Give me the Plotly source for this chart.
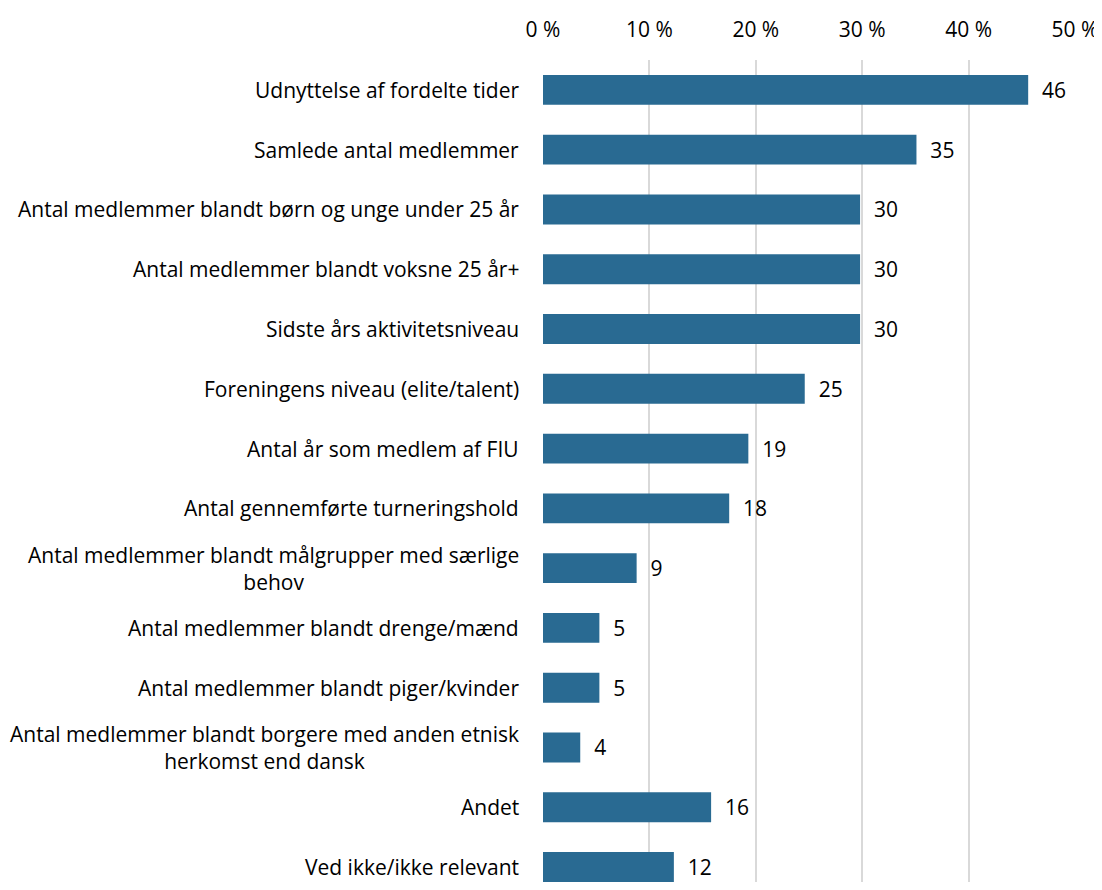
import plotly.graph_objects as go

categories = [
    "Udnyttelse af fordelte tider",
    "Samlede antal medlemmer",
    "Antal medlemmer blandt børn og unge under 25 år",
    "Antal medlemmer blandt voksne 25 år+",
    "Sidste års aktivitetsniveau",
    "Foreningens niveau (elite/talent)",
    "Antal år som medlem af FIU",
    "Antal gennemførte turneringshold",
    "Antal medlemmer blandt målgrupper med særlige<br>behov",
    "Antal medlemmer blandt drenge/mænd",
    "Antal medlemmer blandt piger/kvinder",
    "Antal medlemmer blandt borgere med anden etnisk<br>herkomst end dansk",
    "Andet",
    "Ved ikke/ikke relevant",
]
values = [45.6, 35.1, 29.8, 29.8, 29.8, 24.6, 19.3, 17.5, 8.8, 5.3, 5.3, 3.5, 15.8, 12.3]
labels = ["46", "35", "30", "30", "30", "25", "19", "18", "9", "5", "5", "4", "16", "12"]
x_ticks = [0, 10, 20, 30, 40, 50]

FONT = "Open Sans"
FS = 21
BAR_COLOR = "#296A92"

ids = list(range(len(categories)))

fig = go.Figure()
fig.add_trace(go.Bar(
    y=ids,
    x=values,
    orientation="h",
    marker=dict(color=BAR_COLOR, line=dict(width=0)),
    width=0.5,
    text=labels,
    texttemplate="  %{text}",
    textposition="outside",
    textfont=dict(family=FONT, size=FS, color="#000000"),
    cliponaxis=False,
    hoverinfo="skip",
))

annotations = []
for i, c in enumerate(categories):
    annotations.append(dict(
        x=0, xref="paper", y=i, yref="y",
        text=c, showarrow=False,
        xanchor="right", yanchor="middle", align="center",
        xshift=-22,
        font=dict(family=FONT, size=FS, color="#000000"),
    ))

fig.update_layout(
    width=1094, height=874,
    margin=dict(l=535, r=27, t=52, b=0),
    paper_bgcolor="white", plot_bgcolor="white",
    showlegend=False,
    annotations=annotations,
    font=dict(family=FONT, size=FS, color="#000000"),
    xaxis=dict(
        side="top", range=[0, 50], tickvals=x_ticks,
        ticktext=[f"{v} %" for v in x_ticks],
        showgrid=True, gridcolor="#D9D9D9", gridwidth=2,
        zeroline=False, showline=False,
        ticks="outside", ticklen=14, tickcolor="rgba(0,0,0,0)",
        tickfont=dict(family=FONT, size=FS, color="#000000"),
        fixedrange=True,
    ),
    yaxis=dict(
        range=[13.25, -0.5], showticklabels=False, showgrid=False,
        zeroline=False, showline=False, ticks="",
        fixedrange=True,
    ),
)

fig.write_html("out.html")
